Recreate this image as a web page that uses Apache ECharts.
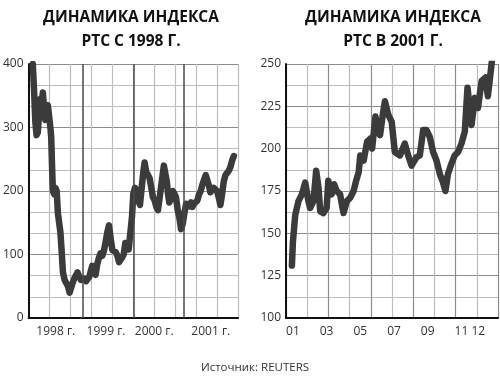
<!DOCTYPE html>
<html>
<head>
<meta charset="utf-8">
<script src="https://cdn.jsdelivr.net/npm/echarts@6/dist/echarts.min.js"></script>
<style>
    html, body { margin: 0; padding: 0; background: #fff; }
    #chart { width: 500px; height: 376px; }
</style>
</head>
<body>
<div id="chart"></div>
<script>
// РТС с 1998 г.: x = месяцы от января 1998
var ruLongData = [
    [0,400],[0.3,360],[0.6,310],[0.9,288],[1.2,292],[1.5,320],[1.8,345],[2.1,338],[2.4,355],[2.7,330],
    [3.0,312],[3.3,325],[3.6,335],[3.9,318],[4.2,300],[4.4,285],[4.6,240],[4.8,200],[5.1,195],[5.4,205],
    [5.7,200],[6.0,165],[6.3,150],[6.6,135],[6.9,105],[7.2,72],[7.6,60],[8.0,62],[8.4,50],[8.8,40],
    [9.1,42],[9.5,55],[9.9,62],[10.3,60],[10.7,72],[11.1,65],[11.5,60],[11.9,60],[12.3,62],[12.7,58],
    [13.1,57],[13.5,65],[13.9,75],[14.2,82],[14.6,72],[15.0,68],[15.4,85],[15.8,95],[16.2,102],[16.6,98],
    [17.0,106],[17.4,120],[17.8,135],[18.2,146],[18.6,125],[19.0,107],[19.4,110],[19.8,104],[20.2,98],[20.6,88],
    [20.9,86],[21.3,95],[21.7,100],[22.1,118],[22.5,120],[22.9,108],[23.3,110],[23.7,160],[24.0,195],[24.4,205],
    [24.8,200],[25.2,185],[25.6,178],[26.0,205],[26.4,230],[26.7,245],[27.1,230],[27.5,225],[27.9,220],[28.3,222],
    [28.7,190],[29.1,185],[29.5,175],[29.9,170],[30.3,190],[30.7,210],[31.0,225],[31.3,240],[31.7,238],[32.0,215],
    [32.3,195],[32.6,182],[33.0,188],[33.4,200],[33.8,196],[34.2,190],[34.6,170],[35.0,158],[35.4,140],[35.8,148],
    [36.2,165],[36.6,180],[37.0,178],[37.4,176],[37.8,182],[38.1,175],[38.5,180],[38.9,178],[39.3,185],[39.7,195],
    [40.1,200],[40.5,210],[40.9,218],[41.3,225],[41.6,228],[42.0,210],[42.4,198],[42.8,200],[43.2,205],[43.6,207],
    [44.0,200],[44.4,190],[44.8,178],[45.2,195],[45.6,215],[46.0,225],[46.4,222],[46.8,232],[47.2,238],[47.6,248],
    [48.0,255]
]
var yearStarts = [12, 24, 36]
var yearLabelPos = [5.5, 17.5, 29, 42.5]
var yearLabels = ['1998 г.', '1999 г.', '2000 г.', '2001 г.']

// РТС в 2001 г.: x = месяцы от 1 января 2001
var ru2001Data = [
    [-0.06,131],[0,145],[0.14,161],[0.33,169],[0.53,173],[0.73,180],[0.92,169],[1.02,165],[1.22,169],[1.38,187],
    [1.52,177],[1.62,163],[1.81,162],[2.0,165],[2.1,181],[2.3,173],[2.44,179],[2.6,175],[2.8,173],[3.0,162],
    [3.2,169],[3.4,171],[3.6,175],[3.75,181],[3.9,186],[4.0,196],[4.2,193],[4.4,204],[4.6,206],[4.7,200],
    [4.9,219],[5.0,212],[5.17,208],[5.36,222],[5.46,228],[5.66,220],[5.86,216],[6.05,198],[6.35,196],[6.64,203],
    [6.84,196],[7.04,190],[7.34,195],[7.53,196],[7.73,211],[7.93,211],[8.12,207],[8.32,198],[8.52,193],[8.72,185],
    [8.91,180],[9.05,175],[9.2,185],[9.4,191],[9.6,196],[9.8,198],[10.0,203],[10.2,210],[10.36,236],[10.6,214],
    [10.8,230],[10.98,224],[11.2,240],[11.42,242],[11.57,231],[11.8,251]
]
var monthTickPos = [0, 2, 4, 6, 8, 10, 11]
var monthLabels = ['01', '03', '05', '07', '09', '11', '12']

var leftTicks = [0, 100, 200, 300, 400]
var rightTicks = [100, 125, 150, 175, 200, 225, 250]

var labelFont = "'Open Sans', sans-serif"
var lineColor = '#3b3b3b'
var majorGrid = '#8c8c8c'
var minorGrid = '#bdbdbd'

function gridXAxis(idx, max, minorSplit) {
    return {
        type: 'value', gridIndex: idx, position: 'top',
        min: 0, max: max, interval: 1,
        axisLine: { show: false }, axisTick: { show: false }, axisLabel: { show: false },
        splitLine: { show: true, lineStyle: { color: minorSplit ? majorGrid : minorGrid, width: 1.2 } },
        minorTick: { show: false, splitNumber: minorSplit || 1 },
        minorSplitLine: { show: !!minorSplit, lineStyle: { color: minorGrid, width: 1.2 } }
    }
}

function dataXAxis(idx, min, max, pos, labels) {
    return {
        type: 'value', gridIndex: idx, position: 'bottom',
        min: min, max: max,
        axisLine: { show: true, onZero: false, lineStyle: { color: '#111', width: 2 } },
        axisTick: { show: false },
        splitLine: { show: false },
        axisLabel: {
            customValues: pos,
            color: '#333', fontFamily: labelFont, fontSize: 12, margin: 8,
            formatter: function (v) {
                var i = pos.indexOf(v)
                return i >= 0 ? labels[i] : ''
            }
        }
    }
}

function valueYAxis(idx, min, max, step, minorNum) {
    return {
        type: 'value', gridIndex: idx,
        min: min, max: max, interval: step,
        axisLine: { show: true, lineStyle: { color: '#111', width: 2 } },
        axisTick: { show: false },
        axisLabel: { color: '#333', fontFamily: labelFont, fontSize: 12, margin: 5 },
        splitLine: { show: true, lineStyle: { color: majorGrid, width: 1.2 } },
        minorTick: { show: false, splitNumber: minorNum },
        minorSplitLine: { show: true, lineStyle: { color: minorGrid, width: 1.2 } }
    }
}

var titleStyle = { fontFamily: "'Open Sans', sans-serif", fontWeight: 'bold', fontSize: 15.5, lineHeight: 24, color: '#111' }

var chart = echarts.init(document.getElementById('chart'))
var option = {
    backgroundColor: '#fff',
    animation: false,
    title: [
        { text: 'ДИНАМИКА ИНДЕКСА\nРТС С 1998 Г.', left: 126, top: 1, textAlign: 'center', textStyle: titleStyle },
        { text: 'ДИНАМИКА ИНДЕКСА\nРТС В 2001 Г.', left: 388, top: 1, textAlign: 'center', textStyle: titleStyle },
        {
            text: 'Источник: REUTERS',
            left: 250, top: 357, textAlign: 'center',
            textStyle: { fontFamily: labelFont, fontWeight: 'normal', fontSize: 11.5, color: '#333' }
        }
    ],
    grid: [
        { left: 26, right: 262, top: 64, bottom: 58 },
        { left: 286, right: 2, top: 64, bottom: 58 }
    ],
    xAxis: [
        gridXAxis(0, 10),
        gridXAxis(1, 5, 2),
        dataXAxis(0, -1, 49, yearLabelPos, yearLabels),
        dataXAxis(1, -0.41, 12.17, monthTickPos, monthLabels)
    ],
    yAxis: [
        valueYAxis(0, leftTicks[0], leftTicks[leftTicks.length - 1], 100, 3),
        valueYAxis(1, rightTicks[0], rightTicks[rightTicks.length - 1], 25, 2)
    ],
    series: [
        {
            type: 'line', xAxisIndex: 2, yAxisIndex: 0, data: [], z: 1,
            markLine: {
                silent: true, symbol: 'none', label: { show: false },
                lineStyle: { color: '#4a4a4a', width: 1.5, type: 'solid' },
                data: yearStarts.map(function (m) { return { xAxis: m } })
            }
        },
        {
            name: 'РТС', type: 'line', xAxisIndex: 2, yAxisIndex: 0, z: 3,
            data: ruLongData, showSymbol: false, smooth: false,
            lineStyle: { color: lineColor, width: 6.5, join: 'round', cap: 'round' }
        },
        {
            name: 'РТС 2001', type: 'line', xAxisIndex: 3, yAxisIndex: 1, z: 3,
            data: ru2001Data, showSymbol: false, smooth: false,
            lineStyle: { color: lineColor, width: 6.5, join: 'round', cap: 'round' }
        }
    ]
}
chart.setOption(option)
</script>
</body>
</html>
